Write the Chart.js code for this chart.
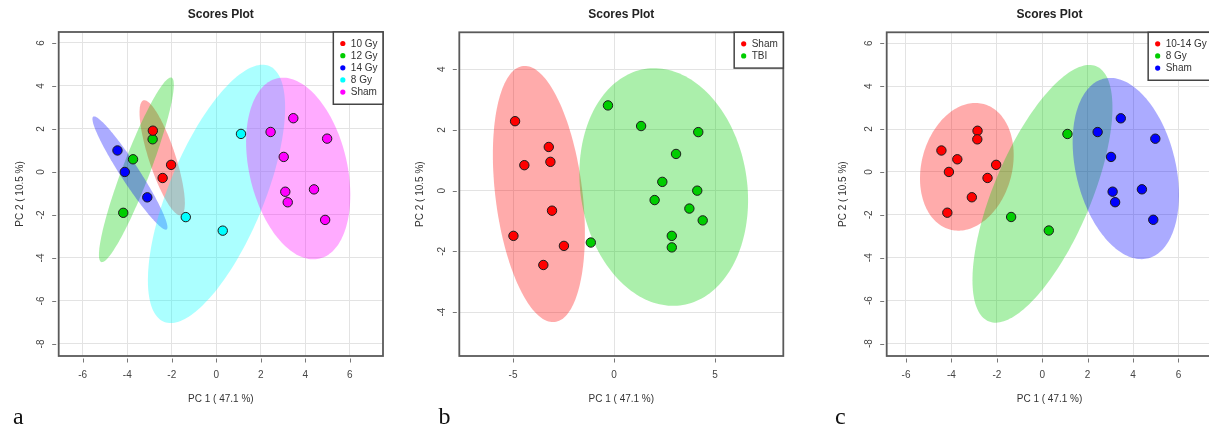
<!DOCTYPE html>
<html>
<head>
<meta charset="utf-8">
<script src="https://cdn.jsdelivr.net/npm/chart.js@4.4.1/dist/chart.umd.min.js"></script>
<style>
    html, body { margin: 0; padding: 0; width: 1209px; height: 429px; overflow: hidden; background: #fff; }
    canvas { position: absolute; top: 0; }
</style>
</head>
<body>
<canvas id="chartA" style="left:0px" width="400" height="429"></canvas>
<canvas id="chartB" style="left:400px" width="410" height="429"></canvas>
<canvas id="chartC" style="left:810px" width="420" height="429"></canvas>
<script>
// ---- panel a : five groups ----
const groupsA = ['10 Gy', '12 Gy', '14 Gy', '8 Gy', 'Sham'];
const a10Gy = [[-2.85, 1.92], [-2.03, 0.33], [-2.41, -0.28]];
const a12Gy = [[-2.86, 1.52], [-3.74, 0.59], [-4.18, -1.90]];
const a14Gy = [[-4.44, 1.00], [-4.11, 0.00], [-3.10, -1.18]];
const a8Gy = [[1.11, 1.77], [-1.37, -2.10], [0.29, -2.73]];
const aSham = [[3.46, 2.50], [2.44, 1.86], [4.98, 1.55], [3.03, 0.70], [4.39, -0.81], [3.10, -0.92], [3.21, -1.41], [4.89, -2.23]];
// confidence ellipses: [centre x, centre y, semi axis 1, semi axis 2, angle in deg]
const ellA = [
    [-2.43, 0.66, 2.80, 0.60, -72.5],
    [-3.59, 0.10, 4.57, 0.62, 69.8],
    [-3.88, -0.05, 3.10, 0.42, -57.9],
    [0.01, -1.02, 6.40, 2.15, 68.5],
    [3.68, 0.16, 4.30, 2.20, 102.5]
];

// ---- panel b : Sham vs TBI ----
const groupsB = ['Sham', 'TBI'];
const bSham = [[-4.90, 2.29], [-3.23, 1.44], [-4.44, 0.84], [-3.15, 0.95], [-3.07, -0.66], [-4.98, -1.49], [-2.48, -1.82], [-3.50, -2.45]];
const bTBI = [[-0.30, 2.81], [1.34, 2.13], [4.17, 1.93], [3.07, 1.21], [2.39, 0.29], [4.12, 0.00], [2.01, -0.31], [3.73, -0.59], [4.39, -0.98], [2.86, -1.49], [2.86, -1.87], [-1.15, -1.71]];
const ellB = [
    [-3.72, -0.11, 4.30, 2.13, 102.5],
    [2.46, 0.12, 4.30, 3.78, 150]
];

// ---- panel c : pooled doses ----
const groupsC = ['10-14 Gy', '8 Gy', 'Sham'];
const c10to14Gy = [...a10Gy, ...a12Gy, ...a14Gy];
const c8Gy = a8Gy;
const cSham = aSham;
const ellC = [
    [-3.32, 0.24, 3.02, 2.00, 77],
    [0.01, -1.02, 6.40, 2.15, 68.5],
    [3.68, 0.16, 4.30, 2.20, 102.5]
];

// axis ranges and tick steps
const xRangeA = [-7.08, 7.49], yRangeA = [-8.56, 6.51];
const xRangeB = [-7.66, 8.38], yRangeB = [-5.45, 5.22];
const xRangeC = [-6.85, 7.49], yRangeC = [-8.58, 6.51];
const xStepA = 2, xStepB = 5, xStepC = 2, yStep = 2;

const RED = [255, 0, 0], GREEN = [0, 205, 0], BLUE = [0, 0, 255], CYAN = [0, 255, 255], MAGENTA = [255, 0, 255];
const rgb = c => 'rgb(' + c.join(',') + ')';
const rgba = (c, a) => 'rgba(' + c.join(',') + ',' + a + ')';

const SANS = '"Liberation Sans", Arial, sans-serif';

// ellipses, box, ticks, text, legend
const decor = {
    id: 'decor',
    beforeDatasetsDraw(chart, args, opts) {
        const { ctx, chartArea: ca, scales: { x, y } } = chart;
        ctx.save();
        ctx.beginPath();
        ctx.rect(ca.left, ca.top, ca.right - ca.left, ca.bottom - ca.top);
        ctx.clip();
        opts.ellipses.forEach((e, i) => {
            const [cx, cy, a, b, deg] = e;
            const th = deg * Math.PI / 180;
            ctx.beginPath();
            for (let k = 0; k <= 180; k++) {
                const t = k / 180 * 2 * Math.PI;
                const dx = a * Math.cos(t), dy = b * Math.sin(t);
                const px = x.getPixelForValue(cx + dx * Math.cos(th) - dy * Math.sin(th));
                const py = y.getPixelForValue(cy + dx * Math.sin(th) + dy * Math.cos(th));
                if (k === 0) ctx.moveTo(px, py); else ctx.lineTo(px, py);
            }
            ctx.closePath();
            ctx.fillStyle = rgba(opts.colors[i], 0.33);
            ctx.fill();
        });
        ctx.restore();
    },
    afterDatasetsDraw(chart, args, opts) {
        const { ctx, chartArea: ca, scales: { x, y } } = chart;
        ctx.save();

        // plot box
        ctx.strokeStyle = '#5a5a5a';
        ctx.lineWidth = 1.8;
        ctx.strokeRect(ca.left, ca.top, ca.right - ca.left, ca.bottom - ca.top);

        // small tick marks outside the box (R style, with a little gap)
        ctx.strokeStyle = '#777';
        ctx.lineWidth = 1;
        ctx.beginPath();
        x.ticks.forEach(t => {
            const px = Math.round(x.getPixelForValue(t.value)) + 0.5;
            ctx.moveTo(px, ca.bottom + 2.5);
            ctx.lineTo(px, ca.bottom + 6.5);
        });
        y.ticks.forEach(t => {
            const py = Math.round(y.getPixelForValue(t.value)) + 0.5;
            ctx.moveTo(ca.left - 2.5, py);
            ctx.lineTo(ca.left - 6.5, py);
        });
        ctx.stroke();

        // tick labels
        ctx.fillStyle = '#444';
        ctx.font = '10px ' + SANS;
        ctx.textAlign = 'center';
        ctx.textBaseline = 'middle';
        x.ticks.forEach(t => ctx.fillText(String(t.value), x.getPixelForValue(t.value), 375.5));
        y.ticks.forEach(t => {
            ctx.save();
            ctx.translate(ca.left - 17, y.getPixelForValue(t.value));
            ctx.rotate(-Math.PI / 2);
            ctx.fillText(String(t.value), 0, 0);
            ctx.restore();
        });

        // axis titles
        const midX = (ca.left + ca.right) / 2, midY = (ca.top + ca.bottom) / 2;
        ctx.fillStyle = '#333';
        ctx.fillText('PC 1 ( 47.1 %)', midX, 399);
        ctx.save();
        ctx.translate(opts.yTitleX, midY);
        ctx.rotate(-Math.PI / 2);
        ctx.fillText('PC 2 ( 10.5 %)', 0, 0);
        ctx.restore();

        // main title
        ctx.fillStyle = '#222';
        ctx.font = 'bold 12px ' + SANS;
        ctx.fillText('Scores Plot', midX, 14.5);

        // legend, top right corner of the plot
        ctx.font = '10px ' + SANS;
        const labels = chart.data.datasets.map(d => d.label);
        const maxW = Math.max(...labels.map(l => ctx.measureText(l).width));
        const bw = 17.5 + maxW + 5.5, bh = labels.length * 12.15 + 11.5;
        const bx = ca.right - bw, by = ca.top;
        ctx.fillStyle = '#fff';
        ctx.fillRect(bx, by, bw, bh);
        ctx.strokeStyle = '#444';
        ctx.lineWidth = 1.5;
        ctx.strokeRect(bx, by, bw, bh);
        ctx.textAlign = 'left';
        labels.forEach((l, i) => {
            const ry = by + 11.5 + i * 12.15;
            ctx.fillStyle = rgb(opts.colors[i]);
            ctx.beginPath();
            ctx.arc(bx + 9.5, ry, 2.6, 0, 2 * Math.PI);
            ctx.fill();
            ctx.fillStyle = '#333';
            ctx.fillText(l, bx + 17.5, ry + 0.5);
        });

        // panel letter
        ctx.fillStyle = '#111';
        ctx.font = '24px "Liberation Serif", "DejaVu Serif", serif';
        ctx.textBaseline = 'alphabetic';
        ctx.fillText(opts.tag, opts.tagX, 424);

        ctx.restore();
    }
};

function makeScatter(id, groups, series, colors, ellipses, xr, yr, xStep, box, extra) {
    const ctx = document.getElementById(id).getContext('2d');
    const canvasW = ctx.canvas.width;
    return new Chart(ctx, {
        type: 'scatter',
        data: {
            datasets: series.map((s, i) => ({
                label: groups[i],
                data: s.map(p => ({ x: p[0], y: p[1] })),
                pointBackgroundColor: rgb(colors[i]),
                pointBorderColor: '#1c1c1c',
                pointBorderWidth: 1,
                pointRadius: 4.7,
                pointHoverRadius: 4.7
            }))
        },
        options: {
            responsive: false,
            animation: false,
            devicePixelRatio: 1,
            layout: { padding: { top: box.top, left: 0, bottom: 0, right: canvasW - box.right } },
            plugins: {
                legend: { display: false },
                tooltip: { enabled: false },
                decor: Object.assign({ colors: colors, ellipses: ellipses }, extra)
            },
            scales: {
                x: {
                    type: 'linear', min: xr[0], max: xr[1],
                    ticks: { display: false, stepSize: xStep, includeBounds: false },
                    grid: { color: '#e3e3e3', lineWidth: 1, drawTicks: false },
                    border: { display: false },
                    afterFit(s) { s.height = 429 - box.bottom; }
                },
                y: {
                    type: 'linear', min: yr[0], max: yr[1],
                    ticks: { display: false, stepSize: yStep, includeBounds: false },
                    grid: { color: '#e3e3e3', lineWidth: 1, drawTicks: false },
                    border: { display: false },
                    afterFit(s) { s.width = box.left; }
                }
            }
        },
        plugins: [decor]
    });
}

makeScatter('chartA', groupsA, [a10Gy, a12Gy, a14Gy, a8Gy, aSham], [RED, GREEN, BLUE, CYAN, MAGENTA], ellA,
    xRangeA, yRangeA, xStepA, { left: 58.7, right: 383, top: 32, bottom: 356 }, { yTitleX: 20, tag: 'a', tagX: 13 });

makeScatter('chartB', groupsB, [bSham, bTBI], [RED, GREEN], ellB,
    xRangeB, yRangeB, xStepB, { left: 59.3, right: 383.3, top: 32.3, bottom: 356 }, { yTitleX: 20, tag: 'b', tagX: 38.5 });

makeScatter('chartC', groupsC, [c10to14Gy, c8Gy, cSham], [RED, GREEN, BLUE], ellC,
    xRangeC, yRangeC, xStepC, { left: 76.7, right: 402.3, top: 32.3, bottom: 356 }, { yTitleX: 33, tag: 'c', tagX: 25 });
</script>
</body>
</html>
